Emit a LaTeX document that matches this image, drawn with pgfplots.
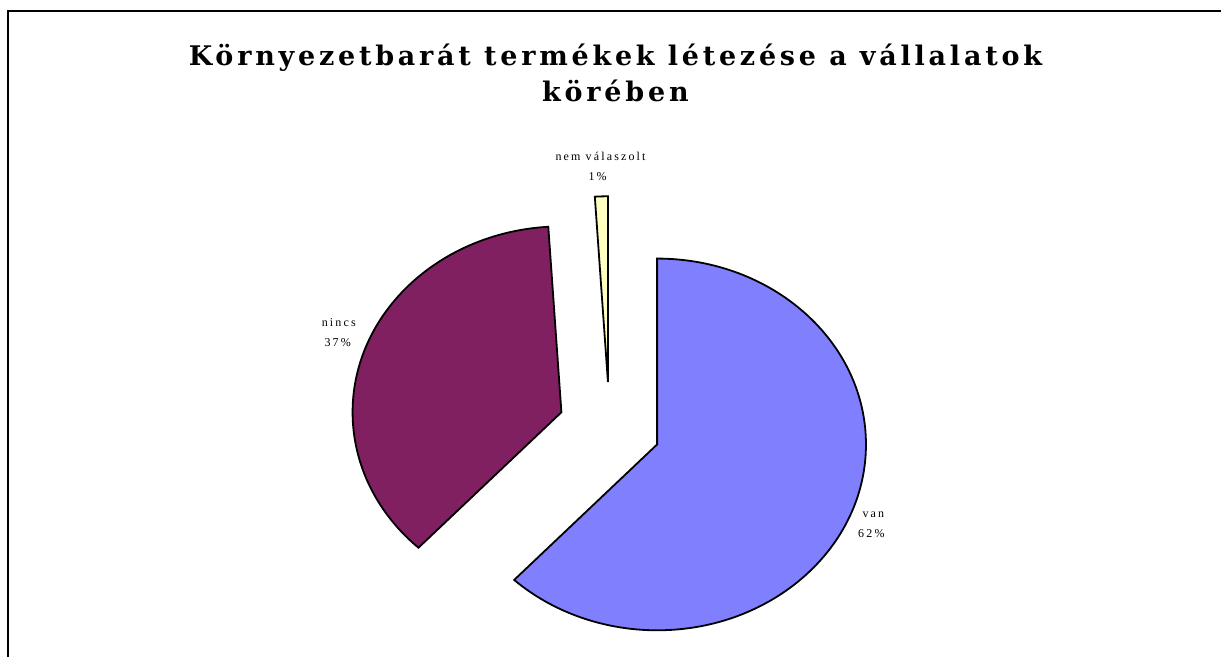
\documentclass[border=0pt]{standalone}
\usepackage{pgfplots}
\pgfplotsset{compat=1.18}
\usepackage{pgfplotstable}
\usepackage{fontspec}
\setmainfont{Liberation Serif}
\newfontfamily\titlefont[LetterSpace=14]{DejaVu Serif}
\newfontfamily\labfont[LetterSpace=18]{Liberation Serif}
\definecolor{vanC}{HTML}{8080FF}
\definecolor{nincsC}{HTML}{802060}
\definecolor{nemC}{HTML}{FFFFC0}
\pgfplotstableread{
label value
van 62
nincs 37
nem 1
}\piedata
\begin{document}
\begin{tikzpicture}
\pgfplotstablegetelem{0}{value}\of\piedata \pgfmathsetmacro\vA{\pgfplotsretval}
\pgfplotstablegetelem{1}{value}\of\piedata \pgfmathsetmacro\vB{\pgfplotsretval}
\pgfplotstablegetelem{2}{value}\of\piedata \pgfmathsetmacro\vC{\pgfplotsretval}
\pgfmathsetmacro\tot{\vA+\vB+\vC}
\pgfmathsetmacro\aA{90}
\pgfmathsetmacro\bA{\aA-3.6*(\vA/\tot*100)}
\pgfmathsetmacro\bB{\bA-3.6*(\vB/\tot*100)}
\pgfmathsetmacro\bC{\bB-3.6*(\vC/\tot*100)}
\pgfmathsetmacro\ex{0.245}
\pgfmathsetmacro\cxA{\ex*cos((\aA+\bA)/2)}\pgfmathsetmacro\cyA{\ex*sin((\aA+\bA)/2)}
\pgfmathsetmacro\cxB{\ex*cos((\bA+\bB)/2)}\pgfmathsetmacro\cyB{\ex*sin((\bA+\bB)/2)}
\pgfmathsetmacro\cxC{\ex*cos((\bB+\bC)/2)}\pgfmathsetmacro\cyC{\ex*sin((\bB+\bC)/2)}
\begin{axis}[
  hide axis, scale only axis,
  x=209pt, y=186pt,
  xmin=-2.91866, xmax=2.92823,
  ymin=-1.23118, ymax=2.30108,
  clip=false,
]
\path (rel axis cs:0,0) rectangle (rel axis cs:1,1);
\draw[line width=1.8pt] (rel axis cs:0.00655,0) -- (rel axis cs:0.00655,0.98326) -- (rel axis cs:1,0.98326);
% wedges
\filldraw[fill=vanC, draw=black, line width=1.8pt, line join=miter]
  (axis cs:\cxA,\cyA) -- ++(\aA:209pt and 186pt)
  arc[start angle=\aA, end angle=\bA, x radius=209pt, y radius=186pt] -- cycle;
\filldraw[fill=nincsC, draw=black, line width=1.8pt, line join=miter]
  (axis cs:\cxB,\cyB) -- ++(\bA:209pt and 186pt)
  arc[start angle=\bA, end angle=\bB, x radius=209pt, y radius=186pt] -- cycle;
\filldraw[fill=nemC, draw=black, line width=1.8pt, line join=miter]
  (axis cs:\cxC,\cyC) -- ++(\bB:209pt and 186pt)
  arc[start angle=\bB, end angle=\bC, x radius=209pt, y radius=186pt] -- cycle;
% title
\node[anchor=base, inner sep=0pt, font=\titlefont\bfseries\fontsize{27}{32}\selectfont]
  at (rel axis cs:0.504,0.8995) {Környezetbarát termékek létezése a vállalatok};
\node[anchor=base, inner sep=0pt, font=\titlefont\bfseries\fontsize{27}{32}\selectfont]
  at (rel axis cs:0.504,0.8447) {körében};
% labels
\node[anchor=base, inner sep=0pt, font=\labfont\fontsize{12}{14}\selectfont] at (rel axis cs:0.4918,0.7549) {nem válaszolt};
\node[anchor=base, inner sep=0pt, font=\labfont\fontsize{12}{14}\selectfont] at (rel axis cs:0.4894,0.7245) {1\%};
\node[anchor=base, inner sep=0pt, font=\labfont\fontsize{12}{14}\selectfont] at (rel axis cs:0.2774,0.5023) {nincs};
\node[anchor=base, inner sep=0pt, font=\labfont\fontsize{12}{14}\selectfont] at (rel axis cs:0.2766,0.4718) {37\%};
\node[anchor=base, inner sep=0pt, font=\labfont\fontsize{12}{14}\selectfont] at (rel axis cs:0.7152,0.2116) {van};
\node[anchor=base, inner sep=0pt, font=\labfont\fontsize{12}{14}\selectfont] at (rel axis cs:0.7136,0.1811) {62\%};
\end{axis}
\end{tikzpicture}
\end{document}
